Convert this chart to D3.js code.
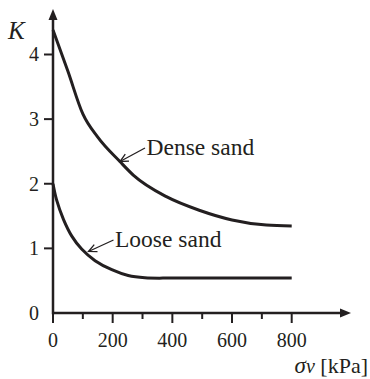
<!DOCTYPE html>
<html>
<head>
<meta charset="utf-8">
<script src="https://cdn.jsdelivr.net/npm/d3@7"></script>
<style>
  body { margin: 0; background: #fff; }
  text { font-family: "Liberation Serif", "Times New Roman", serif; fill: #231f20; }
</style>
</head>
<body>
<svg id="chart"></svg>
<script>
// data
const denseSigma = [0, 50, 100, 150, 225, 270, 380, 490, 600, 715, 800];
const denseK     = [4.38, 3.74, 3.08, 2.72, 2.34, 2.13, 1.80, 1.59, 1.44, 1.36, 1.345];
const looseSigma = [0, 12, 35, 63, 96, 141, 197, 252, 308, 400, 600, 800];
const looseK     = [2.0, 1.75, 1.45, 1.19, 0.99, 0.81, 0.67, 0.58, 0.545, 0.54, 0.54, 0.54];
const xMajor = [0, 200, 400, 600, 800];
const xMinor = [100, 300, 500, 700];
const yTicks = [0, 1, 2, 3, 4];

const width = 370, height = 379;
const ink = '#231f20';
const svg = d3.select('#chart').attr('width', width).attr('height', height);

const x = d3.scaleLinear().domain([0, 800]).range([53, 291.7]);
const y = d3.scaleLinear().domain([0, 4]).range([313, 54.5]);

// axes lines with arrow heads
svg.append('line')
    .attr('x1', x(0)).attr('y1', y(0))
    .attr('x2', 345).attr('y2', y(0))
    .attr('stroke', ink).attr('stroke-width', 2.5);
svg.append('path')
    .attr('d', `M351,${y(0)} L340,${y(0) - 4.5} L340,${y(0) + 4.5} Z`)
    .attr('fill', ink);
svg.append('line')
    .attr('x1', x(0)).attr('y1', y(0) + 1.2)
    .attr('x2', x(0)).attr('y2', 16)
    .attr('stroke', ink).attr('stroke-width', 2.5);
svg.append('path')
    .attr('d', `M${x(0)},9 L${x(0) - 4.5},20 L${x(0) + 4.5},20 Z`)
    .attr('fill', ink);

// x ticks
svg.selectAll('.xmaj').data(xMajor).join('line')
    .attr('x1', d => x(d)).attr('x2', d => x(d))
    .attr('y1', y(0)).attr('y2', y(0) + 10)
    .attr('stroke', ink).attr('stroke-width', 2);
svg.selectAll('.xmin').data(xMinor).join('line')
    .attr('x1', d => x(d)).attr('x2', d => x(d))
    .attr('y1', y(0)).attr('y2', y(0) + 6)
    .attr('stroke', ink).attr('stroke-width', 2);
svg.selectAll('.xlab').data(xMajor).join('text')
    .attr('x', d => x(d)).attr('y', 347)
    .attr('text-anchor', 'middle')
    .attr('font-size', 20)
    .text(d => d);

// y ticks
svg.selectAll('.ytk').data(yTicks.filter(d => d > 0)).join('line')
    .attr('x1', x(0) - 9).attr('x2', x(0))
    .attr('y1', d => y(d)).attr('y2', d => y(d))
    .attr('stroke', ink).attr('stroke-width', 2);
svg.selectAll('.ylab').data(yTicks).join('text')
    .attr('x', 39).attr('y', d => y(d))
    .attr('dy', '0.34em')
    .attr('text-anchor', 'end')
    .attr('font-size', 20)
    .text(d => d);

// axis titles
svg.append('text')
    .attr('x', 8).attr('y', 39)
    .attr('font-size', 25)
    .attr('font-style', 'italic')
    .text('K');
const xt = svg.append('text')
    .attr('x', 368).attr('y', 373)
    .attr('text-anchor', 'end')
    .attr('font-size', 22);
xt.append('tspan').attr('font-style', 'italic').attr('font-size', 23).text('σ');
xt.append('tspan').attr('font-style', 'italic').attr('font-size', 20).text('v');
xt.append('tspan').text(' [kPa]');

// curves
const denseLine = d3.line()
    .x(d => x(d[0]))
    .y(d => y(d[1]))
    .curve(d3.curveMonotoneX);
const looseLine = d3.line()
    .x(d => x(d[0]))
    .y(d => y(d[1]))
    .curve(d3.curveCatmullRom.alpha(0.5));

svg.append('path')
    .datum(d3.zip(denseSigma, denseK))
    .attr('d', denseLine)
    .attr('fill', 'none').attr('stroke', ink).attr('stroke-width', 3);
svg.append('path')
    .datum(d3.zip(looseSigma, looseK))
    .attr('d', looseLine)
    .attr('fill', 'none').attr('stroke', ink).attr('stroke-width', 3);

// annotations: text, leader from (sx, sy) to arrow tip (ax, ay)
function label(txt, tx, ty, sx, sy, ax, ay) {
    svg.append('text')
        .attr('x', tx).attr('y', ty)
        .attr('font-size', 23.5)
        .text(txt);
    const ang = Math.atan2(ay - sy, ax - sx);
    svg.append('line')
        .attr('x1', sx).attr('y1', sy)
        .attr('x2', ax).attr('y2', ay)
        .attr('stroke', ink).attr('stroke-width', 1.3);
    const h = 9;
    svg.append('path')
        .attr('d', `M${ax + h * Math.cos(ang - Math.PI + 0.45)},${ay + h * Math.sin(ang - Math.PI + 0.45)} L${ax},${ay} L${ax + h * Math.cos(ang - Math.PI - 0.45)},${ay + h * Math.sin(ang - Math.PI - 0.45)}`)
        .attr('fill', 'none').attr('stroke', ink).attr('stroke-width', 1.3);
}
label('Dense sand', 146.5, 155, 145, 148, 120, 161.5);
label('Loose sand', 115, 247, 113.5, 240, 88.5, 251.5);
</script>
</body>
</html>
